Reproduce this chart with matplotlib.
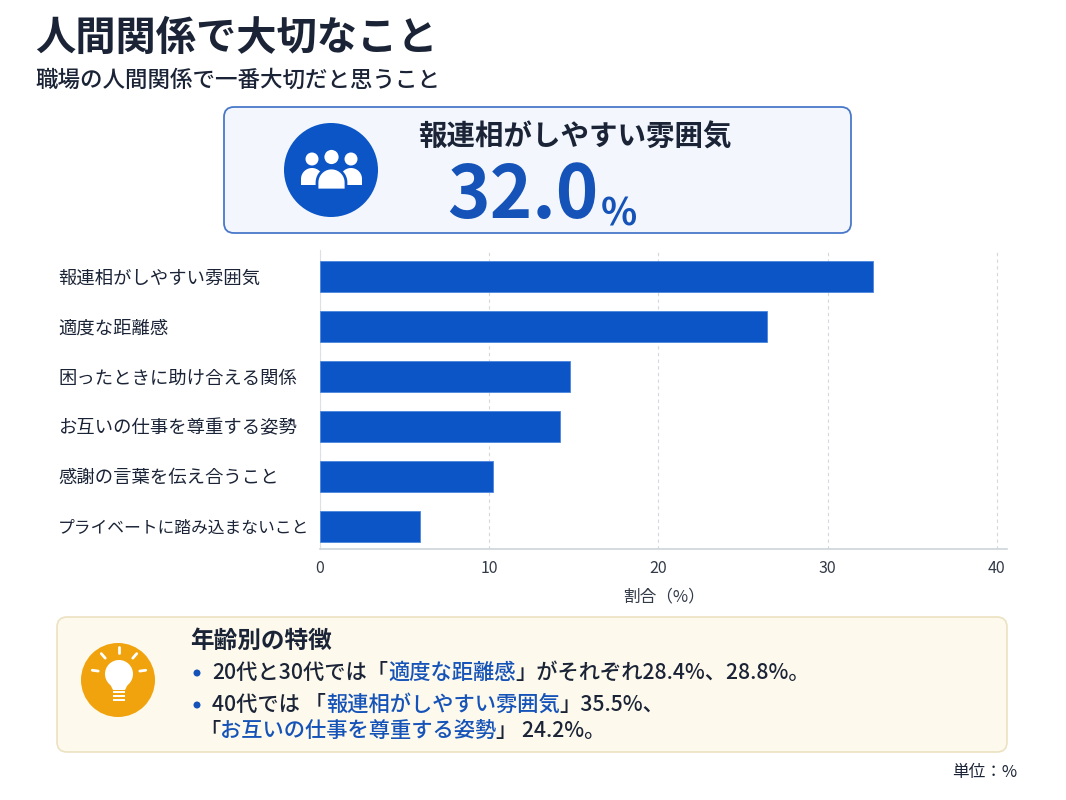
import matplotlib
matplotlib.use("Agg")
import matplotlib.pyplot as plt
from matplotlib.patches import FancyBboxPatch, Circle, Rectangle, Polygon
import numpy as np

plt.rcParams['font.family'] = ['Noto Sans CJK JP', 'DejaVu Sans']

# data
categories = ["報連相がしやすい雰囲気", "適度な距離感", "困ったときに助け合える関係",
              "お互いの仕事を尊重する姿勢", "感謝の言葉を伝え合うこと", "プライベートに踏み込まないこと"]
values = [32.7, 26.4, 14.8, 14.2, 10.2, 5.9]
xticks = [0, 10, 20, 30, 40]

title = "人間関係で大切なこと"
subtitle = "職場の人間関係で一番大切だと思うこと"
top_label = "報連相がしやすい雰囲気"
top_value = "32.0"
note_title = "年齢別の特徴"
note_line1 = [("20代と30代では「", "dark"), ("適度な距離感", "blue"), ("」がそれぞれ28.4%、28.8%。", "dark")]
note_line2 = [("40代では 「", "dark"), ("報連相がしやすい雰囲気", "blue"), ("」35.5%、", "dark")]
note_line3 = [("「", "dark"), ("お互いの仕事を尊重する姿勢", "blue"), ("」 24.2%。", "dark")]
unit = "単位：%"

BLUE = "#0b55c6"
DARK = "#1b2437"
cols = {"dark": DARK, "blue": "#1553b8"}

fig = plt.figure(figsize=(10.66, 8), dpi=100)
fig.patch.set_facecolor("white")

# background layer in pixel coordinates
bg = fig.add_axes([0, 0, 1, 1])
bg.set_xlim(0, 1066)
bg.set_ylim(800, 0)
bg.axis("off")

bg.text(35, 38, title, fontsize=29, fontweight="bold", color=DARK, va="center", ha="left")
bg.text(35, 80, subtitle, fontsize=16.2, fontweight="medium", color=DARK, va="center", ha="left")

# highlight box
bg.add_patch(FancyBboxPatch((224, 107), 627, 126, boxstyle="round,pad=0,rounding_size=10",
                            facecolor="#f3f7fd", edgecolor="#4a78c9", linewidth=1.3))
bg.add_patch(Circle((331, 170), 47, facecolor=BLUE, edgecolor="none"))


def body(cx, top, w, bottom, edge=None):
    r = w / 2
    t = np.linspace(np.pi, 0, 30)
    pts = [(cx + r * np.cos(a), top + r - r * np.sin(a)) for a in t]
    pts += [(cx + r, bottom), (cx - r, bottom)]
    bg.add_patch(Polygon(pts, closed=True, facecolor="white",
                         edgecolor=edge if edge else "none", linewidth=2 if edge else 0))


# people icon
for cx in (312, 351):
    bg.add_patch(Circle((cx, 159), 6.5, facecolor="white", edgecolor="none"))
    body(cx, 168, 22, 185)
bg.add_patch(Circle((331.5, 157), 8.5, facecolor="white", edgecolor=BLUE, linewidth=2))
body(331.5, 168, 29, 190, edge=BLUE)

bg.text(418, 138, top_label, fontsize=20.5, fontweight="bold", color=DARK, va="center", ha="left")
num = bg.text(447, 218, top_value, fontsize=52, fontweight="bold", color="#1553b8",
              va="baseline", ha="left")
bg.annotate("%", xy=(1, 0), xycoords=num, xytext=(2, 0), textcoords="offset points",
            fontsize=27, fontweight="bold", color="#1553b8", va="bottom", ha="left")

# note box
bg.add_patch(FancyBboxPatch((57, 617), 950, 135, boxstyle="round,pad=0,rounding_size=10",
                            facecolor="#fdf9ec", edgecolor="#ece2c2", linewidth=1.2))
bg.add_patch(Circle((118, 680), 37, facecolor="#f0a30c", edgecolor="none"))
# bulb icon
bg.add_patch(Circle((119, 674), 14, facecolor="white", edgecolor="none"))
bg.add_patch(Polygon([(108, 680), (130, 680), (125, 690), (113, 690)], closed=True,
                     facecolor="white", edgecolor="none"))
for yy in (691, 695, 699):
    bg.add_patch(Rectangle((113, yy), 12, 2.2, facecolor="white", edgecolor="none"))
for ang in (90, 49, 131, 8, 172):
    a = np.deg2rad(ang)
    x0, y0 = 119 + 21 * np.cos(a), 674 - 21 * np.sin(a)
    x1, y1 = 119 + 27 * np.cos(a), 674 - 27 * np.sin(a)
    bg.plot([x0, x1], [y0, y1], color="white", lw=2, solid_capstyle="round")

bg.text(190, 641, note_title, fontsize=17, fontweight="bold", color=DARK, va="center", ha="left")


def rich(x, y, parts):
    t = bg.text(x, y, parts[0][0], fontsize=15.3, fontweight="medium", color=cols[parts[0][1]],
                va="center", ha="left")
    for s, c in parts[1:]:
        t = bg.annotate(s, xy=(1, 0), xycoords=t, fontsize=15.3, fontweight="medium",
                        color=cols[c], va="bottom", ha="left")


bg.add_patch(Circle((197, 673), 3.5, facecolor="#1553b8", edgecolor="none"))
rich(212, 673, note_line1)
bg.add_patch(Circle((197, 705), 3.5, facecolor="#1553b8", edgecolor="none"))
rich(212, 705, note_line2)
rich(199, 731, note_line3)

bg.text(1017, 773, unit, fontsize=12, color=DARK, va="center", ha="right")

# bar chart
ax = fig.add_axes([320 / 1066, 1 - 549 / 800, 687 / 1066, 299 / 800])
ax.patch.set_alpha(0)
y = np.arange(len(categories))
ax.barh(y, values, height=0.62, color=BLUE, edgecolor="#4d86de", linewidth=0.6, zorder=3)
ax.set_xlim(0, 40.6)
ax.set_ylim(len(categories) - 0.54, -0.54)
ax.set_xticks(xticks)
ax.set_xticklabels([str(v) for v in xticks], fontsize=11.5, color="#333a48")
ax.set_yticks(y)
ax.set_yticklabels(categories, fontsize=13.2, color=DARK, ha="left")
# long label: shrink so it stays clear of the bars
for lab in ax.get_yticklabels():
    if len(lab.get_text()) > 14:
        lab.set_fontsize(12.1)
ax.tick_params(axis="y", length=0, pad=(320 - 58) * 72 / 100)
ax.tick_params(axis="x", length=0, pad=8)
ax.grid(axis="x", color="#d4d8de", linestyle=(0, (3, 3)), linewidth=0.8, zorder=0)
for s in ("top", "right"):
    ax.spines[s].set_visible(False)
ax.spines["left"].set_color("#dde1e6")
ax.spines["bottom"].set_color("#cdd6dc")
ax.spines["bottom"].set_linewidth(1.2)
ax.set_xlabel("割合（%）", fontsize=12, color="#333a48", labelpad=8)

fig.savefig("out.png", dpi=100, facecolor="white")
